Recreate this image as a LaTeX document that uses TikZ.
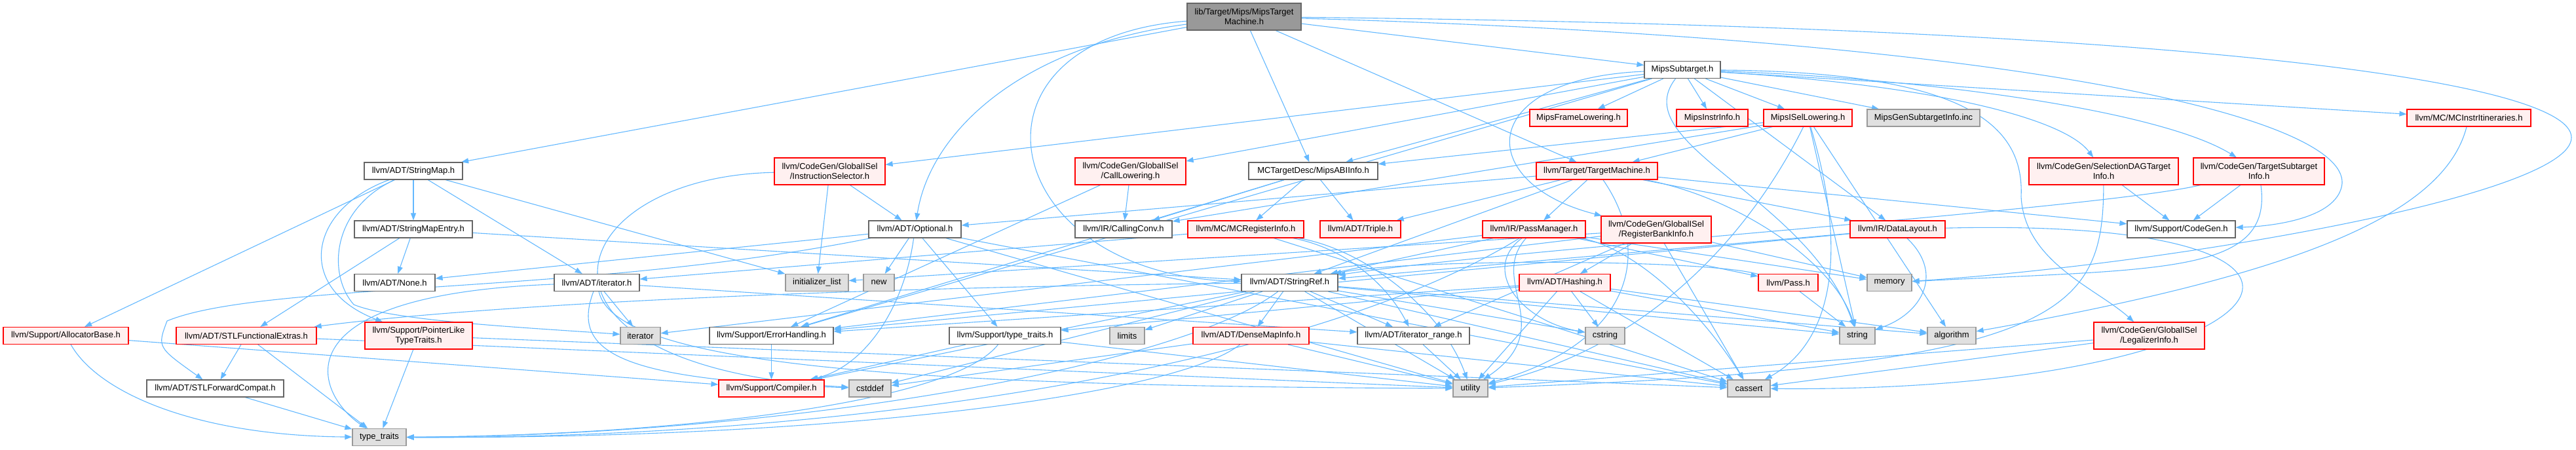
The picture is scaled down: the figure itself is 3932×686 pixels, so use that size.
\documentclass[tikz,border=0pt]{standalone}
\usepackage{fontspec}
\setmainfont{Liberation Sans}
\usetikzlibrary{arrows.meta,backgrounds}
\definecolor{edgeblue}{HTML}{63B8FF}
\definecolor{redfill}{HTML}{FFF0F0}
\definecolor{sysfill}{HTML}{E0E0E0}
\definecolor{grey40}{HTML}{666666}
\definecolor{grey60}{HTML}{999999}

\begin{document}
\begin{tikzpicture}[x=1pt,y=-1pt,>={Triangle[length=11pt,width=8pt]},
  every node/.style={font=\fontsize{13}{14.5}\selectfont,inner sep=0pt,align=center,line width=1.2pt,minimum height=26pt},
  plainfile/.style={draw=grey40,fill=white},
  redfile/.style={draw=red,fill=redfill},
  sysfile/.style={draw=grey60,fill=sysfill},
  tall/.style={minimum height=41pt},
  incl/.style={draw=edgeblue,line width=1.1pt,->}]
  \useasboundingbox (0,0) rectangle (3932,686);
  % ranks 0-2
  \node[draw=grey40,fill=grey60,tall,minimum width=174pt] (root) at (1899,25.5) {lib/Target/Mips/MipsTarget\\Machine.h};
  \node[plainfile,minimum width=116pt] (sub) at (2568,106.5) {MipsSubtarget.h};
  \node[redfile,minimum width=149pt] (frame) at (2409.5,180) {MipsFrameLowering.h};
  \node[redfile,minimum width=109pt] (instr) at (2613.5,180) {MipsInstrInfo.h};
  \node[redfile,minimum width=135pt] (isel) at (2759.5,180) {MipsISelLowering.h};
  \node[sysfile,minimum width=172pt] (gensub) at (2936,180) {MipsGenSubtargetInfo.inc};
  \node[redfile,minimum width=189pt] (itin) at (3768.5,180) {llvm/MC/MCInstrItineraries.h};
  % rank 3
  \node[plainfile,minimum width=150pt] (smap) at (631,261) {llvm/ADT/StringMap.h};
  \node[redfile,tall,minimum width=169pt] (instsel) at (1266.5,261.5) {llvm/CodeGen/GlobalISel\\/InstructionSelector.h};
  \node[redfile,tall,minimum width=169pt] (calllow) at (1725.5,261.5) {llvm/CodeGen/GlobalISel\\/CallLowering.h};
  \node[plainfile,minimum width=197pt] (abi) at (2004.5,261) {MCTargetDesc/MipsABIInfo.h};
  \node[redfile,minimum width=185pt] (tm) at (2437.5,261) {llvm/Target/TargetMachine.h};
  \node[redfile,tall,minimum width=228pt] (seldag) at (3211,261.5) {llvm/CodeGen/SelectionDAGTarget\\Info.h};
  \node[redfile,tall,minimum width=200pt] (tsi) at (3448,261.5) {llvm/CodeGen/TargetSubtarget\\Info.h};
  % rank 4
  \node[plainfile,minimum width=180pt] (smapent) at (631,350) {llvm/ADT/StringMapEntry.h};
  \node[plainfile,minimum width=141pt] (opt) at (1396.5,350) {llvm/ADT/Optional.h};
  \node[plainfile,minimum width=148pt] (cconv) at (1715,350) {llvm/IR/CallingConv.h};
  \node[redfile,minimum width=177pt] (mcreg) at (1901.5,350) {llvm/MC/MCRegisterInfo.h};
  \node[redfile,minimum width=123pt] (triple) at (2076.5,350) {llvm/ADT/Triple.h};
  \node[redfile,minimum width=157pt] (pm) at (2341.5,350) {llvm/IR/PassManager.h};
  \node[redfile,tall,minimum width=168pt] (rbi) at (2528,350.5) {llvm/CodeGen/GlobalISel\\/RegisterBankInfo.h};
  \node[redfile,minimum width=145pt] (dl) at (2896.5,350) {llvm/IR/DataLayout.h};
  \node[plainfile,minimum width=165pt] (cgen) at (3329.5,350) {llvm/Support/CodeGen.h};
  % rank 5
  \node[plainfile,minimum width=123pt] (none) at (602.5,431.5) {llvm/ADT/None.h};
  \node[plainfile,minimum width=130pt] (iterh) at (911,431.5) {llvm/ADT/iterator.h};
  \node[sysfile,minimum width=96pt] (initl) at (1247,431.5) {initializer\_list};
  \node[sysfile,minimum width=47pt] (new) at (1341.5,431.5) {new};
  \node[plainfile,minimum width=147pt] (sref) at (1968.5,431.5) {llvm/ADT/StringRef.h};
  \node[redfile,minimum width=139pt] (hash) at (2388.5,431.5) {llvm/ADT/Hashing.h};
  \node[redfile,minimum width=91pt] (pass) at (2729.5,431.5) {llvm/Pass.h};
  \node[sysfile,minimum width=68pt] (memory) at (2884,431.5) {memory};
  % rank 6
  \node[redfile,minimum width=191pt] (alloc) at (100.5,512.5) {llvm/Support/AllocatorBase.h};
  \node[redfile,minimum width=214pt] (stlfe) at (376,512.5) {llvm/ADT/STLFunctionalExtras.h};
  \node[redfile,tall,minimum width=164pt] (plt) at (639,512.5) {llvm/Support/PointerLike\\TypeTraits.h};
  \node[sysfile,minimum width=61pt] (iter) at (977.5,512.5) {iterator};
  \node[plainfile,minimum width=189pt] (errh) at (1177.5,512.5) {llvm/Support/ErrorHandling.h};
  \node[plainfile,minimum width=170pt] (ttraitsh) at (1534,512.5) {llvm/Support/type\_traits.h};
  \node[sysfile,minimum width=53pt] (limits) at (1720.5,512.5) {limits};
  \node[redfile,minimum width=177pt] (dmi) at (1909.5,512.5) {llvm/ADT/DenseMapInfo.h};
  \node[plainfile,minimum width=171pt] (irange) at (2157.5,512.5) {llvm/ADT/iterator\_range.h};
  \node[sysfile,minimum width=60pt] (cstring) at (2450,512.5) {cstring};
  \node[sysfile,minimum width=54pt] (string) at (2835,512.5) {string};
  \node[sysfile,minimum width=74pt] (algo) at (2979,512.5) {algorithm};
  \node[redfile,tall,minimum width=169pt] (legal) at (3280.5,512.5) {llvm/CodeGen/GlobalISel\\/LegalizerInfo.h};
  % ranks 7-8
  \node[plainfile,minimum width=209pt] (stlfc) at (328.5,593) {llvm/ADT/STLForwardCompat.h};
  \node[redfile,minimum width=161pt] (compiler) at (1177.5,593) {llvm/Support/Compiler.h};
  \node[sysfile,minimum width=64pt] (cstddef) at (1328,593) {cstddef};
  \node[sysfile,minimum width=53pt] (utility) at (2244.5,593) {utility};
  \node[sysfile,minimum width=65pt] (cassert) at (2669.5,593) {cassert};
  \node[sysfile,minimum width=82pt] (ttraits) at (579,667.5) {type\_traits};

  \begin{scope}[on background layer]
  % MipsTargetMachine.h
  \draw[incl] (root) -- (sub); \draw[incl] (root) -- (abi); \draw[incl] (root) -- (tm); \draw[incl] (root) -- (smap);
  \draw[incl] (root) .. controls (1560,70) and (1420,200) .. (opt);
  \draw[incl] (root) .. controls (1450,60) and (1520,420) .. (sref);
  \draw[incl] (root) .. controls (3100,60) and (3580,180) .. (3575,280) .. controls (3570,330) and (3480,345) .. (cgen);
  \draw[incl] (root) .. controls (3300,40) and (3925,120) .. (3925,210) .. controls (3925,300) and (3300,405) .. (memory);
  % MipsSubtarget.h
  \draw[incl] (sub) -- (frame); \draw[incl] (sub) -- (instr); \draw[incl] (sub) -- (isel); \draw[incl] (sub) -- (gensub);
  \draw[incl] (sub) -- (itin); \draw[incl] (sub) -- (abi); \draw[incl] (sub) -- (instsel); \draw[incl] (sub) -- (calllow);
  \draw[incl] (sub) -- (errh); \draw[incl] (sub) -- (dl);
  \draw[incl] (sub) .. controls (2950,130) and (3150,180) .. (seldag);
  \draw[incl] (sub) .. controls (2950,120) and (3300,170) .. (tsi);
  \draw[incl] (sub) .. controls (2250,120) and (2250,280) .. (rbi);
  \draw[incl] (sub) .. controls (2480,220) and (2760,300) .. (string);
  \draw[incl] (sub) .. controls (3000,110) and (3090,190) .. (3085,300) .. controls (3090,400) and (3200,440) .. (legal);
  % MipsISelLowering.h
  \draw[incl] (isel) -- (abi); \draw[incl] (isel) -- (cconv); \draw[incl] (isel) -- (tm); \draw[incl] (isel) -- (algo);
  \draw[incl] (isel) -- (string);
  \draw[incl] (isel) .. controls (2820,380) and (2800,520) .. (cassert);
  \draw[incl] (isel) .. controls (2700,300) and (2560,520) .. (utility);
  % TargetMachine.h
  \draw[incl] (tm) -- (opt); \draw[incl] (tm) -- (sref); \draw[incl] (tm) -- (triple); \draw[incl] (tm) -- (pm);
  \draw[incl] (tm) -- (dl); \draw[incl] (tm) -- (cgen);
  \draw[incl] (tm) .. controls (2650,300) and (2800,400) .. (string);
  \draw[incl] (tm) .. controls (2520,380) and (2500,520) .. (utility);
  % GlobalISel, MipsABIInfo
  \draw[incl] (instsel) -- (opt); \draw[incl] (instsel) -- (initl);
  \draw[incl] (instsel) .. controls (850,270) and (760,560) .. (cstddef);
  \draw[incl] (calllow) -- (cconv); \draw[incl] (calllow) -- (errh);
  \draw[incl] (abi) -- (triple); \draw[incl] (abi) -- (cconv); \draw[incl] (abi) -- (mcreg); \draw[incl] (abi) -- (errh);
  % StringMap.h, StringMapEntry.h
  \draw[incl] (smap) -- (smapent); \draw[incl] (smap) -- (iterh); \draw[incl] (smap) -- (alloc); \draw[incl] (smap) -- (initl);
  \draw[incl] (smap) .. controls (470,320) and (450,440) .. (plt);
  \draw[incl] (smap) .. controls (505,320) and (500,420) .. (540,465) .. controls (600,490) and (800,500) .. (iter);
  \draw[incl] (smapent) -- (none); \draw[incl] (smapent) -- (stlfe); \draw[incl] (smapent) -- (sref);
  % Optional.h
  \draw[incl] (opt) -- (none); \draw[incl] (opt) -- (new); \draw[incl] (opt) -- (ttraitsh);
  \draw[incl] (opt) -- (cassert); \draw[incl] (opt) -- (utility);
  \draw[incl] (opt) .. controls (1380,470) and (1320,560) .. (compiler);
  \draw[incl] (opt) .. controls (900,450) and (400,430) .. (255,490) .. controls (240,530) .. (stlfc);
  % MCRegisterInfo.h, PassManager.h
  \draw[incl] (mcreg) -- (iterh); \draw[incl] (mcreg) -- (cassert);
  \draw[incl] (mcreg) .. controls (2060,380) and (2120,440) .. (irange);
  \draw[incl] (mcreg) .. controls (2080,380) and (2200,470) .. (utility);
  \draw[incl] (pm) -- (sref); \draw[incl] (pm) -- (pass); \draw[incl] (pm) -- (iter); \draw[incl] (pm) -- (memory);
  \draw[incl] (pm) .. controls (2500,380) and (2600,480) .. (cassert);
  \draw[incl] (pm) .. controls (2260,410) and (2320,490) .. (cstring);
  \draw[incl] (pm) .. controls (2270,430) and (2380,500) .. (utility);
  \draw[incl] (pm) .. controls (2000,560) and (1300,670) .. (ttraits);
  % RegisterBankInfo.h, DataLayout.h
  \draw[incl] (rbi) -- (hash); \draw[incl] (rbi) -- (irange); \draw[incl] (rbi) -- (errh); \draw[incl] (rbi) -- (cassert);
  \draw[incl] (rbi) -- (initl); \draw[incl] (rbi) -- (memory);
  \draw[incl] (dl) -- (sref); \draw[incl] (dl) -- (errh);
  \draw[incl] (dl) .. controls (2970,420) and (2930,480) .. (string);
  \draw[incl] (dl) .. controls (3700,330) and (3500,600) .. (cassert);
  % iterator.h
  \draw[incl] (iterh) -- (irange); \draw[incl] (iterh) -- (iter);
  \draw[incl] (iterh) .. controls (420,450) and (480,600) .. (ttraits);
  \draw[incl] (iterh) .. controls (870,540) and (950,580) .. (cstddef);
  \draw[incl] (iterh) .. controls (940,560) and (1400,590) .. (utility);
  % StringRef.h
  \draw[incl] (sref) -- (dmi); \draw[incl] (sref) -- (irange); \draw[incl] (sref) -- (compiler); \draw[incl] (sref) -- (algo);
  \draw[incl] (sref) -- (cassert); \draw[incl] (sref) -- (cstddef); \draw[incl] (sref) -- (cstring); \draw[incl] (sref) -- (limits);
  \draw[incl] (sref) -- (string); \draw[incl] (sref) -- (utility);
  \draw[incl] (sref) .. controls (1200,440) and (700,470) .. (stlfe);
  \draw[incl] (sref) .. controls (1800,560) and (1200,665) .. (ttraits);
  % Hashing.h, Pass.h
  \draw[incl] (hash) -- (errh); \draw[incl] (hash) -- (ttraitsh); \draw[incl] (hash) -- (algo); \draw[incl] (hash) -- (cassert);
  \draw[incl] (hash) -- (cstring); \draw[incl] (hash) -- (string); \draw[incl] (hash) -- (utility);
  \draw[incl] (pass) .. controls (2600,395) and (2150,395) .. (sref); \draw[incl] (pass) -- (string);
  % lower ranks
  \draw[incl] (alloc) -- (compiler); \draw[incl] (alloc) .. controls (150,600) and (300,665) .. (ttraits);
  \draw[incl] (stlfe) -- (stlfc); \draw[incl] (stlfe) -- (ttraits); \draw[incl] (stlfe) -- (utility);
  \draw[incl] (plt) -- (cassert); \draw[incl] (plt) -- (ttraits);
  \draw[incl] (stlfc) -- (ttraits); \draw[incl] (errh) -- (compiler);
  \draw[incl] (ttraitsh) -- (compiler); \draw[incl] (ttraitsh) -- (utility);
  \draw[incl] (ttraitsh) .. controls (1450,620) and (1000,665) .. (ttraits);
  \draw[incl] (dmi) -- (cassert); \draw[incl] (dmi) -- (cstddef); \draw[incl] (dmi) -- (utility);
  \draw[incl] (dmi) .. controls (1800,600) and (1300,670) .. (ttraits);
  \draw[incl] (irange) -- (utility);
  \draw[incl] (legal) -- (cassert); \draw[incl] (legal) -- (utility);
  \draw[incl] (seldag) -- (cgen); \draw[incl] (seldag) .. controls (3210,480) and (3150,560) .. (utility);
  \draw[incl] (tsi) -- (cgen);
  \draw[incl] (tsi) .. controls (3200,320) and (2300,380) .. (sref);
  \draw[incl] (tsi) .. controls (3470,420) and (3300,410) .. (memory);
  \draw[incl] (itin) .. controls (3730,330) and (3500,420) .. (algo);
  \end{scope}
\end{tikzpicture}
\end{document}
